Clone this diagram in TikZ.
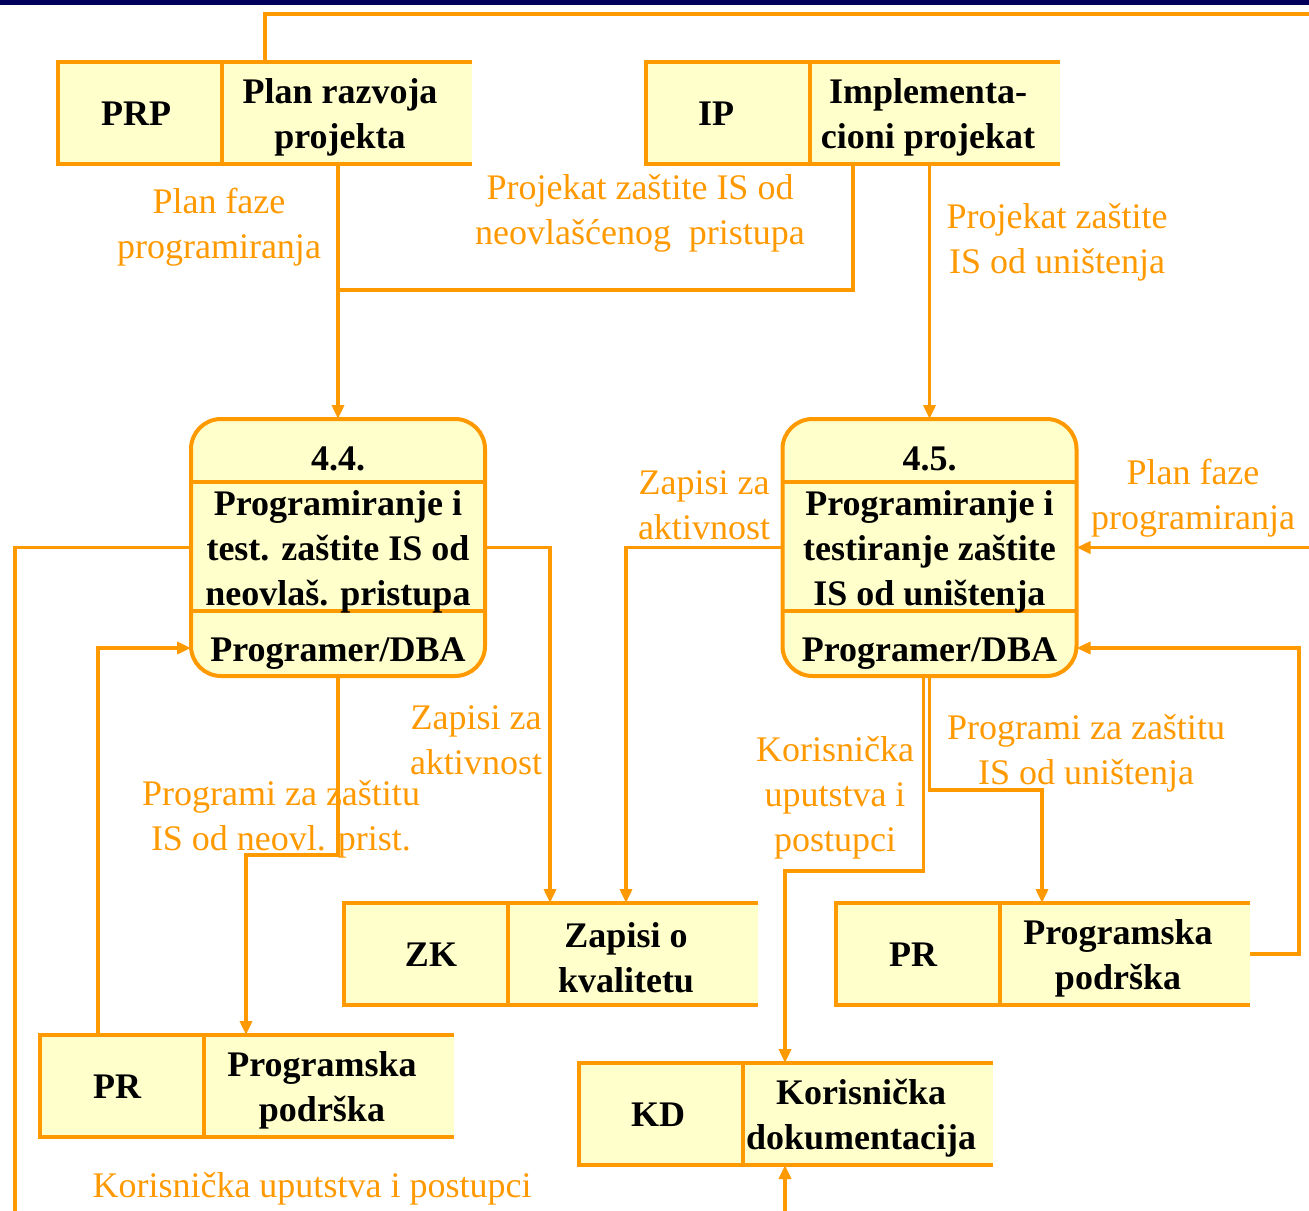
\documentclass[tikz,border=0pt]{standalone}
\usepackage{fontspec}
\setmainfont{Liberation Serif}
\usetikzlibrary{positioning,arrows.meta,calc}
\definecolor{dfdorange}{HTML}{FF9900}
\definecolor{dfdyellow}{HTML}{FFFFCC}
\definecolor{dfdnavy}{HTML}{00005A}
\newcommand{\bigfont}{\fontsize{36}{45}\selectfont}

\begin{document}
\begin{tikzpicture}[x=1pt,y=-1pt,>={Triangle[length=14pt,width=12pt]},
  flow/.style={draw=dfdorange,line width=3.5pt},
  lbl/.style={text=dfdorange,align=center,inner sep=0pt,font=\bigfont,yshift=-4pt},
  storecell/.style={fill=dfdyellow,minimum width=164pt,minimum height=102pt,inner sep=0pt,outer sep=0pt},
  storename/.style={storecell,minimum width=250pt},
  storeline/.style={draw=dfdorange,line width=4.5pt},
  proc/.style={draw=dfdorange,fill=dfdyellow,line width=4pt,rounded corners=30pt,minimum width=294pt,minimum height=257pt,inner sep=0pt,outer sep=0pt},
  proctxt/.style={align=center,inner sep=0pt,font=\bigfont\bfseries,yshift=-4pt}]
  \useasboundingbox (0,0) rectangle (1309,1210);
  \clip (0,0) rectangle (1309,1210);
  \fill[dfdnavy] (0,0) rectangle (1309,5);
  \foreach \n/\x/\y/\dx/\c/\t in {prp/58/62/-4/PRP/{Plan razvoja\\projekta}, ip/646/62/-12/IP/{Implementa-\\cioni projekat},
      zk/344/903/5/ZK/{Zapisi o\\kvalitetu}, prr/836/903/-5/PR/{Programska\\podrška},
      prl/40/1035/-5/PR/{Programska\\podrška}, kd/579/1063/-3/KD/{Korisnička\\dokumentacija}} {
    \node[storecell,anchor=north west] (\n) at (\x,\y) {};
    \node[storename,anchor=north west] (\n-t) at (\n.north east) {};
    \node[proctxt,yshift=3pt] (\n-code) at ([xshift=\dx pt]\n.center) {\c};
    \node[proctxt] (\n-name) at ([xshift=-7pt]\n-t.center) {\t};
    \draw[storeline] (\n-t.north east) -- (\n.north west) -- (\n.south west) -- (\n-t.south east);
    \draw[storeline] (\n.north east) -- (\n.south east);
  }
  \foreach \n/\x/\num/\txt in {p44/338/4.4./{Programiranje i\\test. zaštite IS od\\neovlaš. pristupa},
      p45/929.5/4.5./{Programiranje i\\testiranje zaštite\\IS od uništenja}} {
    \node[proc] (\n) at (\x,547.5) {};
    \draw[flow] ([yshift=-63pt]\n.north west) -- ([yshift=-63pt]\n.north east);
    \draw[flow] ([yshift=-192pt]\n.north west) -- ([yshift=-192pt]\n.north east);
    \node[proctxt,yshift=3pt] (\n-num) at ([yshift=-39pt]\n.north) {\num};
    \node[proctxt] (\n-txt) at (\n) {\txt};
    \node[proctxt] (\n-role) at ([yshift=-231pt]\n.north) {Programer/DBA};
  }
  \coordinate (topR) at (1309,14);
  \coordinate (edgeR) at (1309,548);
  \coordinate (bl) at (15,1240);
  \coordinate (j1) at (853,290);
  \coordinate (j2) at (0,855);
  \coordinate (j3) at (1299,648);
  \coordinate (j4) at (0,790);
  \coordinate (j5) at (0,871);
  \draw[flow] ([xshift=43pt]prp-t.north west) |- (topR);
  \draw[flow,->] (prp-t.south -| p44.north) -- (p44.north);
  \draw[flow] (ip-t.south -| j1) -- (j1) -- (p44.north |- j1);
  \draw[flow,->] (ip-t.south -| p45.north) -- (p45.north);
  \draw[flow,->] (p44.west) -| (bl) -| ([xshift=42pt]kd-t.south west);
  \draw[flow,->] (p44.east) -| ([xshift=42pt]zk-t.north west);
  \draw[flow,->] (p44.south) -- (p44.south |- j2) -| ([xshift=42pt]prl-t.north west);
  \draw[flow,->] ([xshift=58pt]prl.north west) |- (p44.west |- j3);
  \draw[flow,->] (p45.west) -| ([xshift=118pt]zk-t.north west);
  \draw[flow,->] (edgeR) -- (p45.east -| edgeR) -- (p45.east);
  \draw[flow,->] (prr-t.east) -| (j3) -- (p45.east |- j3);
  \draw[flow,->] (p45.south) -- (p45.south |- j4) -| ([xshift=42pt]prr-t.north west);
  \draw[flow,->] ([xshift=-6pt]p45.south) -- ([xshift=-6pt]p45.south |- j5) -| ([xshift=42pt]kd-t.north west);
  \node[lbl] (l1) at (219,223) {Plan faze\\programiranja};
  \node[lbl] (l2) at (640,209) {Projekat zaštite IS od\\neovlašćenog\ \ pristupa};
  \node[lbl] (l3) at (1057,238) {Projekat zaštite\\IS od uništenja};
  \node[lbl] (l4) at (704,501) {Zapisi za\\aktivnost};
  \node[lbl] (l5) at (1193,494) {Plan faze\\programiranja};
  \node[lbl] (l6) at (476,736) {Zapisi za\\aktivnost};
  \node[lbl] (l7) at (281,815) {Programi za zaštitu\\IS od neovl. prist.};
  \node[lbl] (l8) at (1086,749) {Programi za zaštitu\\IS od uništenja};
  \node[lbl] (l9) at (835,794) {Korisnička\\uputstva i\\postupci};
  \node[lbl] (l10) at (312,1185) {Korisnička uputstva i postupci};
\end{tikzpicture}
\end{document}
